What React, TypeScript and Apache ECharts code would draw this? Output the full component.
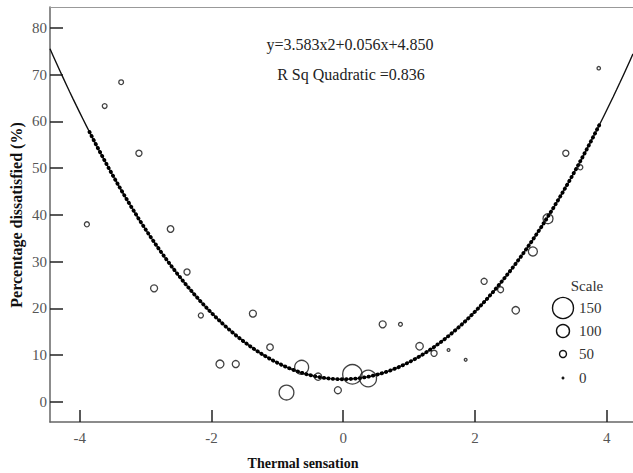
import React, { useEffect, useRef } from "react";
import * as echarts from "echarts";

// Fitted quadratic: y = a*x^2 + b*x + c
const fitCoefficients = [3.583, 0.056, 4.85];
const fitRange = [-4.45, 4.4];
const beadRange = [-3.85, 3.9];

const xTicks = [-4, -2, 0, 2, 4];
const yTicks = [0, 10, 20, 30, 40, 50, 60, 70, 80];

// Observed points: thermal sensation, percentage dissatisfied, scale (sample size)
const sensation = [-3.89, -3.62, -3.37, -3.1, -2.87, -2.62, -2.37, -2.16, -1.87, -1.63, -1.37, -1.11, -0.86, -0.63, -0.38, -0.08, 0.14, 0.38, 0.6, 0.87, 1.16, 1.38, 1.6, 1.86, 2.14, 2.39, 2.62, 2.88, 3.11, 3.38, 3.6, 3.88];
const dissatisfied = [38.0, 63.3, 68.4, 53.2, 24.3, 37.0, 27.8, 18.5, 8.1, 8.1, 18.9, 11.7, 2.0, 7.4, 5.4, 2.5, 5.9, 5.0, 16.6, 16.6, 11.9, 10.4, 11.1, 9.0, 25.8, 24.0, 19.6, 32.2, 39.2, 53.2, 50.2, 71.4];
const scaleValues = [28, 25, 25, 40, 50, 45, 40, 28, 58, 50, 50, 45, 111, 106, 52, 50, 140, 123, 50, 15, 54, 40, 3, 3, 40, 38, 54, 67, 75, 40, 28, 10];

const legendValues = [150, 100, 50, 0];
const legendTitle = "Scale";
const equationText = "y=3.583x2+0.056x+4.850";
const rsqText = "R Sq Quadratic =0.836";

// mapping of scale value -> marker diameter (style)
const sizeKeys = [0, 50, 100, 150];
const sizeDiams = [2.5, 7, 13, 21];
function diam(v: number): number {
  for (let i = 0; i < sizeKeys.length - 1; i++) {
    if (v <= sizeKeys[i + 1]) {
      const t = (v - sizeKeys[i]) / (sizeKeys[i + 1] - sizeKeys[i]);
      return sizeDiams[i] + t * (sizeDiams[i + 1] - sizeDiams[i]);
    }
  }
  return sizeDiams[sizeDiams.length - 1];
}

function fit(x: number) {
  const [a, b, c] = fitCoefficients;
  return a * x * x + b * x + c;
}
function curve(from: number, to: number, step: number) {
  const pts: number[][] = [];
  for (let x = from; x <= to + 1e-9; x += step) pts.push([x, fit(x)]);
  return pts;
}

const SERIF = "'Liberation Serif', 'Times New Roman', serif";
const AXIS = "#666";

export default function App() {
  const ref = useRef<HTMLDivElement>(null);
  useEffect(() => {
    if (!ref.current) return;
    const chart = echarts.init(ref.current, undefined, { renderer: "svg" });
    const points = sensation.map((x, i) => [x, dissatisfied[i], scaleValues[i]]);
    const legendX = 563;
    const legendYs = [308, 331, 354, 378];
    const graphics: any[] = [
      {
        type: "text",
        x: 350,
        y: 44,
        style: { text: equationText, font: `16px ${SERIF}`, fill: "#222", align: "center", verticalAlign: "middle" },
      },
      {
        type: "text",
        x: 351,
        y: 74,
        style: { text: rsqText, font: `16px ${SERIF}`, fill: "#222", align: "center", verticalAlign: "middle" },
      },
      {
        type: "text",
        x: 587,
        y: 286,
        style: { text: legendTitle, font: `15px ${SERIF}`, fill: "#333", align: "center", verticalAlign: "middle" },
      },
      {
        type: "text",
        x: 303,
        y: 463,
        style: { text: "Thermal sensation", font: `bold 14px ${SERIF}`, fill: "#111", align: "center", verticalAlign: "middle" },
      },
      {
        type: "text",
        x: 16,
        y: 215,
        rotation: Math.PI / 2,
        style: { text: "Percentage dissatisfied (%)", font: `bold 16px ${SERIF}`, fill: "#111", align: "center", verticalAlign: "middle" },
      },
    ];
    legendValues.forEach((v, i) => {
      const r = diam(v) / 2;
      graphics.push({
        type: "circle",
        shape: { cx: legendX, cy: legendYs[i], r },
        style: v === 0 ? { fill: "#111", stroke: "#111", lineWidth: 0.5 } : { fill: "none", stroke: "#111", lineWidth: 1.4 },
      });
      graphics.push({
        type: "text",
        x: 579,
        y: legendYs[i],
        style: { text: String(v), font: `15px ${SERIF}`, fill: "#333", align: "left", verticalAlign: "middle" },
      });
    });

    chart.setOption({
      animation: false,
      grid: { left: 50, top: 7, right: 0, bottom: 51, containLabel: false },
      xAxis: [
        {
          type: "value",
          min: fitRange[0],
          max: fitRange[1],
          axisLine: { show: true, onZero: false, lineStyle: { color: AXIS, width: 1.5 } },
          axisTick: { show: true, inside: true, length: 12, customValues: xTicks, lineStyle: { color: "#222", width: 1.5 } },
          axisLabel: { show: true, customValues: xTicks, margin: 8, color: "#555", fontFamily: SERIF, fontSize: 15 },
          splitLine: { show: false },
        },
        {
          type: "value",
          position: "top",
          min: fitRange[0],
          max: fitRange[1],
          axisLine: { show: true, onZero: false, lineStyle: { color: "#999", width: 1.2 } },
          axisTick: { show: false },
          axisLabel: { show: false },
          splitLine: { show: false },
        },
      ],
      yAxis: {
        type: "value",
        min: -4.3,
        max: 84.5,
        axisLine: { show: true, onZero: false, lineStyle: { color: AXIS, width: 1.5 } },
        axisTick: { show: true, inside: true, length: 13, customValues: yTicks, lineStyle: { color: "#222", width: 1.5 } },
        axisLabel: { show: true, customValues: yTicks, margin: 3, color: "#555", fontFamily: SERIF, fontSize: 15 },
        splitLine: { show: false },
      },
      graphic: graphics,
      series: [
        {
          type: "line",
          data: curve(fitRange[0], fitRange[1], 0.05),
          showSymbol: false,
          symbol: "none",
          lineStyle: { color: "#111", width: 1.4 },
          z: 2,
        },
        {
          type: "line",
          data: curve(beadRange[0], beadRange[1], 0.05),
          showSymbol: false,
          symbol: "none",
          lineStyle: { color: "#000", width: 3.8, type: [0.3, 4.2], cap: "round" },
          z: 3,
        },
        {
          type: "scatter",
          data: points,
          symbol: "circle",
          symbolSize: (val: number[]) => diam(val[2]),
          itemStyle: { color: "rgba(0,0,0,0)", borderColor: "#111", borderWidth: 1.3 },
          z: 4,
        },
      ],
    });
    return () => chart.dispose();
  }, []);
  return <div ref={ref} style={{ position: "fixed", left: 0, top: 0, width: 633, height: 473, background: "#fff" }} />;
}
